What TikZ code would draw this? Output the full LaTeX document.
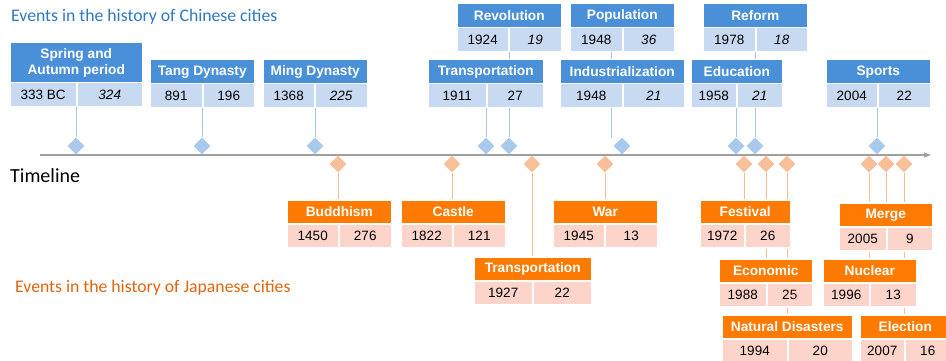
\documentclass[tikz,border=0pt]{standalone}
\usepackage{fontspec}
\setmainfont{Liberation Sans}
\newfontfamily\calibri{Carlito}
\usepackage{tikz}
\usetikzlibrary{arrows.meta,shapes.geometric}
\usetikzlibrary{backgrounds}

\definecolor{cnHead}{HTML}{4A90D9}
\definecolor{cnCell}{HTML}{C7DAF1}
\definecolor{cnMark}{HTML}{A9CAEC}
\definecolor{cnLine}{HTML}{A4C6EA}
\definecolor{cnText}{HTML}{2E78C4}
\definecolor{jpHead}{HTML}{FF7A00}
\definecolor{jpCell}{HTML}{FCD4CA}
\definecolor{jpMark}{HTML}{F9BF99}
\definecolor{jpLine}{HTML}{F8BB90}
\definecolor{jpText}{HTML}{E2640C}
\definecolor{axisGray}{HTML}{A0A0A0}

\begin{document}
\begin{tikzpicture}[
    x=1pt, y=-1pt,
    font=\fontsize{13.5}{15}\selectfont,
    box/.style={draw=white, line width=1.5pt, inner sep=0pt, anchor=north west, minimum height=24pt},
    cnhead/.style={box, fill=cnHead, text=white, align=center, font=\fontsize{13.7}{16}\selectfont\bfseries},
    cncell/.style={box, fill=cnCell},
    jphead/.style={box, fill=jpHead, text=white, align=center, font=\fontsize{13.7}{16}\selectfont\bfseries},
    jpcell/.style={box, fill=jpCell},
    cnmark/.style={diamond, fill=cnMark, inner sep=0pt, minimum width=17pt, minimum height=17pt},
    jpmark/.style={diamond, fill=jpMark, inner sep=0pt, minimum width=17pt, minimum height=17pt},
    cnconn/.style={cnLine, line width=1pt},
    jpconn/.style={jpLine, line width=1pt},
    heading/.style={anchor=west, inner sep=0pt, font=\calibri\fontsize{17.7}{20}\selectfont}
  ]
  \useasboundingbox (0,0) rectangle (946,361);

  % --- Titles ---
  \node[heading, text=cnText] (cn-title) at (11,17) {Events in the history of Chinese cities};
  \node[heading, text=jpText] (jp-title) at (15,288) {Events in the history of Japanese cities};
  \node[heading, font=\calibri\fontsize{20}{22}\selectfont] (tl-label) at (10,176) {Timeline};

  % --- Chinese cities (above the line) ---
  \foreach \nm/\xa/\xb/\xs/\ya/\hh/\lbl/\yr/\val in {
      spr/9/142/76/42/40/{Spring and\\Autumn period}/333 BC/\textit{324},
      tang/149/254/202/59/24/Tang Dynasty/891/196,
      ming/262/367/314/59/24/Ming Dynasty/1368/\textit{225},
      trans/427/543/486/59/24/Transportation/1911/27,
      rev/456/561/508/3/24/Revolution/1924/\textit{19},
      pop/569/674/622/3/24/Population/1948/\textit{36},
      ind/559/684/622/59/24/Industrialization/1948/\textit{21},
      ref/702/807/755/3/24/Reform/1978/\textit{18},
      edu/690/782/736/59/24/Education/1958/\textit{21},
      spo/825/930/877/59/24/Sports/2004/22} {
    \node[cnhead, minimum width=\xb-\xa, minimum height=\hh] (\nm-h) at (\xa,\ya) {\lbl};
    \node[cncell, minimum width=\xs-\xa] (\nm-y) at (\xa,\ya+\hh) {\yr};
    \node[cncell, minimum width=\xb-\xs] (\nm-v) at (\xs,\ya+\hh) {\val};
  }

  \foreach \nm/\xd in {spr/76, tang/202, ming/315, trans/486, rev/509, ind/622, edu/736, ref/755, spo/877}
    \node[cnmark] (\nm-d) at (\xd,146) {};
  \coordinate (pop-end) at (611,138);

  % --- Japanese cities (below the line) ---
  \foreach \nm/\xa/\xb/\xs/\ya/\lbl/\yr/\val in {
      bud/286/391/338/199/Buddhism/1450/276,
      cas/400/505/452/199/Castle/1822/121,
      otr/473/591/532/256/Transportation/1927/22,
      war/552/657/604/199/War/1945/13,
      fes/699/790/744/199/Festival/1972/26,
      eco/718/812/766/258/Economic/1988/25,
      nat/721/852/787/314/Natural Disasters/1994/20,
      mer/838/932/886/202/Merge/2005/9,
      nuc/822/916/869/258/Nuclear/1996/13,
      ele/859/950/904/314/Election/2007/16} {
    \node[jphead, minimum width=\xb-\xa] (\nm-h) at (\xa,\ya) {\lbl};
    \node[jpcell, minimum width=\xs-\xa] (\nm-y) at (\xa,\ya+24) {\yr};
    \node[jpcell, minimum width=\xb-\xs] (\nm-v) at (\xs,\ya+24) {\val};
  }

  \foreach \nm/\xd in {bud/338, cas/452, otr/532, war/605, fes/744, eco/766, nat/787, nuc/869, mer/886, ele/904}
    \node[jpmark] (\nm-d) at (\xd,164) {};

  % --- Axis and stems ---
  \coordinate (ax-start) at (40,155);
  \coordinate (ax-end) at (931,155);
  \begin{scope}[on background layer]
    \draw[axisGray, line width=1.2pt, -{Triangle[length=7pt, width=5pt]}] (ax-start) -- (ax-end);
    \foreach \nm in {spr, tang, ming, trans, rev, edu, ref, spo}
      \draw[cnconn] (\nm-d |- \nm-v.south) -- (\nm-d);
    \draw[cnconn] (pop-end |- pop-v.south) -- (pop-end);
    \foreach \nm in {bud, cas, otr, war, fes, eco, nat, nuc, mer, ele}
      \draw[jpconn] (\nm-d) -- (\nm-d |- \nm-v.north);
  \end{scope}

\end{tikzpicture}
\end{document}
